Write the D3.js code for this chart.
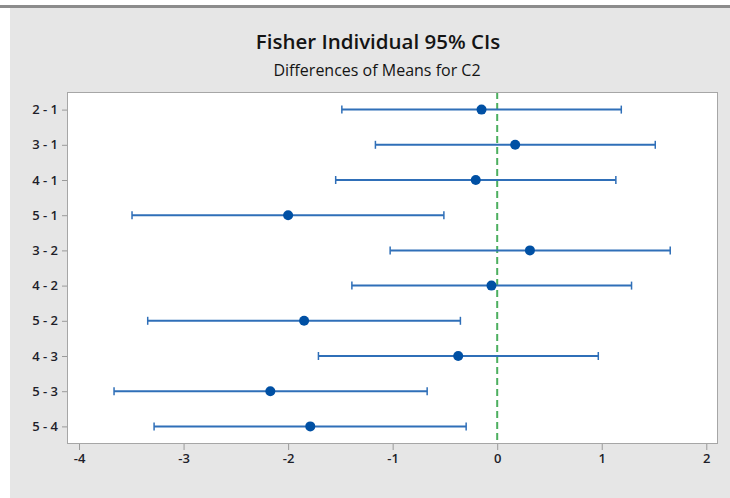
<!DOCTYPE html>
<html>
<head>
<meta charset="utf-8">
<script src="https://cdn.jsdelivr.net/npm/d3@7"></script>
<style>
  html, body { margin: 0; padding: 0; background: #ffffff; }
  svg { display: block; }
</style>
</head>
<body>
<svg id="chart" width="730" height="498"></svg>
<script>
// Pairwise comparisons (level i minus level j)
const comparisons = ["2 - 1", "3 - 1", "4 - 1", "5 - 1", "3 - 2", "4 - 2", "5 - 2", "4 - 3", "5 - 3", "5 - 4"];
// Difference of means
const estimates = [-0.150, 0.172, -0.205, -2.000, 0.313, -0.055, -1.847, -0.373, -2.170, -1.788];
// 95% interval bounds
const lowerBounds = [-1.486, -1.165, -1.545, -3.493, -1.024, -1.390, -3.343, -1.710, -3.665, -3.282];
const upperBounds = [1.187, 1.512, 1.135, -0.510, 1.655, 1.285, -0.352, 0.967, -0.670, -0.297];
const xTicks = [-4, -3, -2, -1, 0, 1, 2];
const xDomain = [-4.115, 2.112];
const referenceValue = 0;

const rows = comparisons.map((c, i) => ({
  label: c, est: estimates[i], lo: lowerBounds[i], hi: upperBounds[i]
}));

const svg = d3.select("#chart");
const W = 730, H = 498;
const plot = { left: 67, top: 92, right: 718, bottom: 444 };

// window background
svg.append("rect").attr("x", 0).attr("y", 0).attr("width", W).attr("height", H).attr("fill", "#ffffff");
svg.append("rect").attr("x", 10).attr("y", 8).attr("width", W - 10).attr("height", H - 8).attr("fill", "#e6e6e6");
svg.append("rect").attr("x", 0).attr("y", 5).attr("width", W).attr("height", 3).attr("fill", "#8c8c8c");

// titles
svg.append("text")
  .attr("x", 378).attr("y", 49)
  .attr("text-anchor", "middle")
  .attr("font-family", "'Open Sans', sans-serif")
  .attr("font-size", 20.5).attr("font-weight", 600)
  .attr("fill", "#141414")
  .text("Fisher Individual 95% CIs");
svg.append("text")
  .attr("x", 377).attr("y", 76)
  .attr("text-anchor", "middle")
  .attr("font-family", "'Open Sans', sans-serif")
  .attr("font-size", 16)
  .attr("fill", "#141414")
  .text("Differences of Means for C2");

const x = d3.scaleLinear().domain(xDomain).range([plot.left, plot.right]);
const y = d3.scalePoint().domain(comparisons).range([plot.top, plot.bottom]).padding(0.5);

// data region
svg.append("rect")
  .attr("x", plot.left).attr("y", plot.top)
  .attr("width", plot.right - plot.left).attr("height", plot.bottom - plot.top)
  .attr("fill", "#ffffff");

// axes
const xAxis = svg.append("g")
  .attr("transform", `translate(0,${plot.bottom})`)
  .call(d3.axisBottom(x).tickValues(xTicks).tickSize(6).tickPadding(4).tickFormat(d3.format("d")));
const yAxis = svg.append("g")
  .attr("transform", `translate(${plot.left},0)`)
  .call(d3.axisLeft(y).tickSize(5).tickPadding(4));

[xAxis, yAxis].forEach(g => {
  g.select(".domain").remove();
  g.selectAll(".tick line").attr("stroke", "#9a9a9a");
  g.selectAll(".tick text")
    .attr("font-family", "'Open Sans', sans-serif")
    .attr("font-size", 13)
    .attr("font-weight", 600)
    .attr("fill", "#1e1e2a");
});
xAxis.selectAll(".tick text").text(d => d < 0 ? "-" + Math.abs(d) : String(d));

// reference line at zero
svg.append("line")
  .attr("x1", x(referenceValue)).attr("x2", x(referenceValue))
  .attr("y1", plot.top).attr("y2", plot.bottom)
  .attr("stroke", "#4caf5f").attr("stroke-width", 2)
  .attr("stroke-dasharray", "7,4");

// intervals
const g = svg.append("g");
const row = g.selectAll("g.row").data(rows).join("g").attr("class", "row");
row.append("line")
  .attr("x1", d => x(d.lo)).attr("x2", d => x(d.hi))
  .attr("y1", d => y(d.label)).attr("y2", d => y(d.label))
  .attr("stroke", "#2f6fb8").attr("stroke-width", 2);
row.append("line")
  .attr("x1", d => x(d.lo)).attr("x2", d => x(d.lo))
  .attr("y1", d => y(d.label) - 4).attr("y2", d => y(d.label) + 4)
  .attr("stroke", "#2f6fb8").attr("stroke-width", 1.5);
row.append("line")
  .attr("x1", d => x(d.hi)).attr("x2", d => x(d.hi))
  .attr("y1", d => y(d.label) - 4).attr("y2", d => y(d.label) + 4)
  .attr("stroke", "#2f6fb8").attr("stroke-width", 1.5);
row.append("circle")
  .attr("cx", d => x(d.est)).attr("cy", d => y(d.label))
  .attr("r", 5)
  .attr("fill", "#0050a4");

// frame
svg.append("rect")
  .attr("x", plot.left + 0.5).attr("y", plot.top + 0.5)
  .attr("width", plot.right - plot.left - 1).attr("height", plot.bottom - plot.top - 1)
  .attr("fill", "none").attr("stroke", "#a6a6a6").attr("stroke-width", 1);
</script>
</body>
</html>
